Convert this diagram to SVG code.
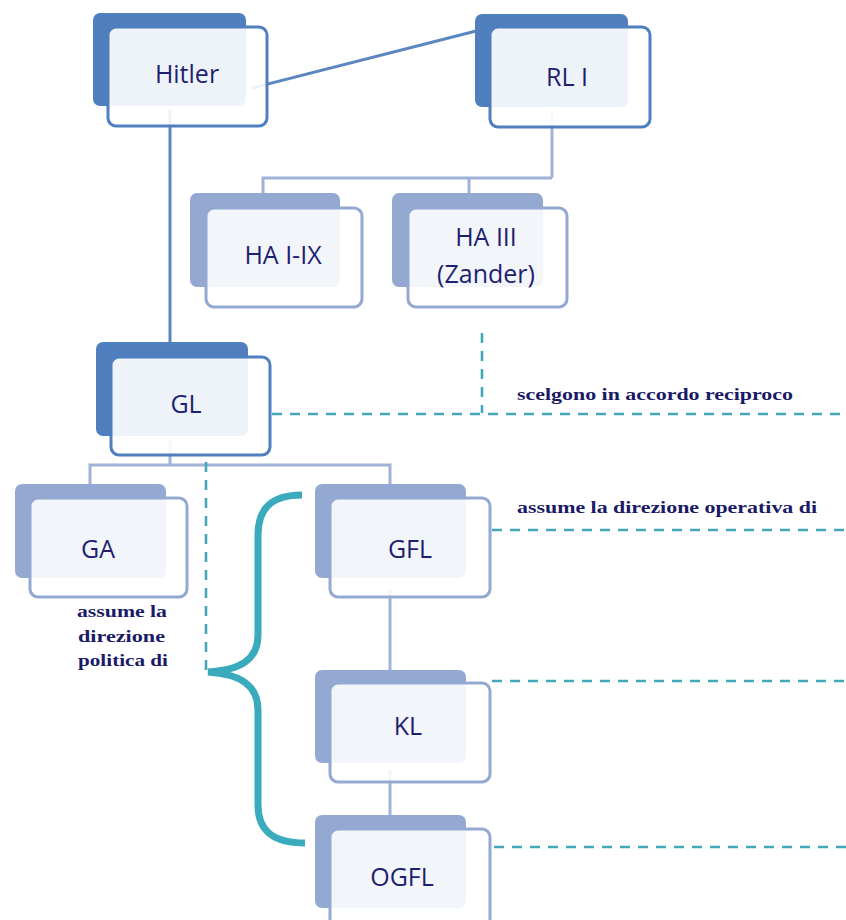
<svg xmlns="http://www.w3.org/2000/svg" width="846" height="920" viewBox="0 0 846 920">
<style>
.bgA{fill:#4f7fbf}
.frA{fill:#ffffff;fill-opacity:0.9;stroke:#4f7fbf;stroke-width:3}
.bgB{fill:#94a9d2}
.frB{fill:#ffffff;fill-opacity:0.88;stroke:#94a9d2;stroke-width:3}
.lbl{font-family:"Open Sans","Liberation Sans",sans-serif;font-size:25px;fill:#1f1f72;text-anchor:middle}
.ann{font-family:"Liberation Serif","DejaVu Serif",serif;font-size:17px;font-weight:bold;fill:#1a1a66}
.lnA{stroke:#5b86c0;stroke-width:3;fill:none}
.lnB{stroke:#9fb2d8;stroke-width:3;fill:none}
.dash{stroke:#43a7ba;stroke-width:2.6;stroke-dasharray:10 8;fill:none}
</style>
<rect width="846" height="920" fill="#ffffff"/>
<g id="connectors">
<line class="lnA" x1="252" y1="88" x2="480" y2="30"/>
<line class="lnA" x1="170" y1="110" x2="170" y2="345"/>
<polyline class="lnB" points="552,110 552,178"/>
<polyline class="lnB" points="263,196 263,178 552,178"/>
<line class="lnB" x1="469" y1="178" x2="469" y2="196"/>
<polyline class="lnB" points="170,440 170,465"/>
<polyline class="lnB" points="90,487 90,465 390,465 390,487"/>
<line class="lnB" x1="390" y1="590" x2="390" y2="676"/>
<line class="lnB" x1="390" y1="770" x2="390" y2="820"/>
<line class="dash" x1="482" y1="333" x2="482" y2="413"/>
<line class="dash" x1="272" y1="414" x2="846" y2="414"/>
<line class="dash" x1="206" y1="462" x2="206" y2="670"/>
<line class="dash" x1="492" y1="530" x2="846" y2="530"/>
<line class="dash" x1="492" y1="681" x2="846" y2="681"/>
<line class="dash" x1="494" y1="847" x2="846" y2="847"/>
<path d="M 302 495 C 272 495 258 508 258 535 L 258 635 C 258 660 240 670 208 672 C 240 674 258 685 258 710 L 258 805 C 258 830 272 843 305 843" stroke="#3aabbd" stroke-width="7" fill="none"/>
</g>
<g id="n-hitler">
<rect class="bgA" x="93" y="13" width="153" height="93" rx="7"/>
<rect class="frA" x="108" y="27" width="159" height="99" rx="8"/>
<text class="lbl" x="187" y="83">Hitler</text>
</g>
<g id="n-rl">
<rect class="bgA" x="475" y="14" width="153" height="93" rx="7"/>
<rect class="frA" x="490" y="27" width="160" height="100" rx="8"/>
<text class="lbl" x="567" y="86">RL I</text>
</g>
<g id="n-ha19">
<rect class="bgB" x="190" y="193" width="150" height="94" rx="7"/>
<rect class="frB" x="206" y="208" width="156" height="99" rx="8"/>
<text class="lbl" x="283" y="264">HA I-IX</text>
</g>
<g id="n-ha3">
<rect class="bgB" x="392" y="193" width="151" height="94" rx="7"/>
<rect class="frB" x="408" y="208" width="159" height="99" rx="8"/>
<text class="lbl" x="486" y="246">HA III</text>
<text class="lbl" x="486" y="283">(Zander)</text>
</g>
<g id="n-gl">
<rect class="bgA" x="96" y="342" width="152" height="94" rx="7"/>
<rect class="frA" x="111" y="357" width="159" height="98" rx="8"/>
<text class="lbl" x="186" y="413">GL</text>
</g>
<g id="n-ga">
<rect class="bgB" x="15" y="484" width="151" height="94" rx="7"/>
<rect class="frB" x="30" y="498" width="157" height="99" rx="8"/>
<text class="lbl" x="98" y="558">GA</text>
</g>
<g id="n-gfl">
<rect class="bgB" x="315" y="484" width="151" height="94" rx="7"/>
<rect class="frB" x="330" y="498" width="160" height="99" rx="8"/>
<text class="lbl" x="410" y="558">GFL</text>
</g>
<g id="n-kl">
<rect class="bgB" x="315" y="670" width="151" height="93" rx="7"/>
<rect class="frB" x="330" y="683" width="160" height="99" rx="8"/>
<text class="lbl" x="408" y="735">KL</text>
</g>
<g id="n-ogfl">
<rect class="bgB" x="315" y="815" width="151" height="93" rx="7"/>
<rect class="frB" x="330" y="829" width="160" height="99" rx="8"/>
<text class="lbl" x="402" y="886">OGFL</text>
</g>
<g id="annotations">
<text class="ann" x="517" y="400" textLength="276" lengthAdjust="spacingAndGlyphs">scelgono in accordo reciproco</text>
<text class="ann" x="517" y="513" textLength="300" lengthAdjust="spacingAndGlyphs">assume la direzione operativa di</text>
<text class="ann" x="77" y="617" textLength="90" lengthAdjust="spacingAndGlyphs">assume la</text>
<text class="ann" x="78" y="642" textLength="87" lengthAdjust="spacingAndGlyphs">direzione</text>
<text class="ann" x="78" y="666" textLength="90" lengthAdjust="spacingAndGlyphs">politica di</text>
</g>
</svg>
